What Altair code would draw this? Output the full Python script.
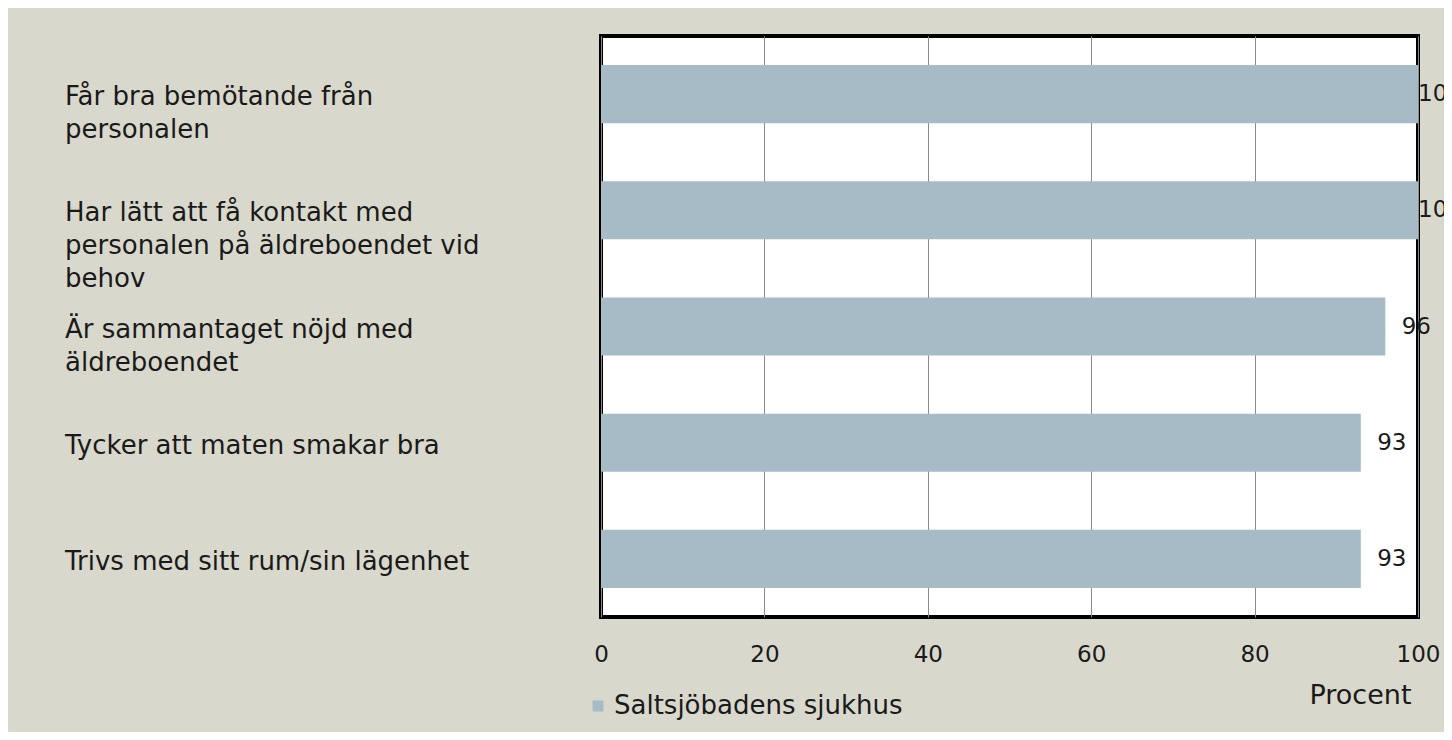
import altair as alt
import pandas as pd

categories = [
    "Får bra bemötande från|personalen",
    "Har lätt att få kontakt med|personalen på äldreboendet vid|behov",
    "Är sammantaget nöjd med|äldreboendet",
    "Tycker att maten smakar bra",
    "Trivs med sitt rum/sin lägenhet",
]
values = [100, 100, 96, 93, 93]
series_name = "Saltsjöbadens sjukhus"
x_ticks = [0, 20, 40, 60, 80, 100]

df = pd.DataFrame({
    "cat": categories,
    "value": values,
    "series": [series_name] * len(values),
})

FONT = "DejaVu Sans"
BAR = "#A7BBC6"
BG = "#D9D8CC"
TXT = "#1a1a1a"

y_enc = alt.Y("cat:N", sort=categories, axis=None,
              scale=alt.Scale(paddingInner=0.5, paddingOuter=0.25))

bars = alt.Chart(df).mark_bar().encode(
    y=y_enc,
    x=alt.X("value:Q",
            scale=alt.Scale(domain=[0, 100], nice=False, zero=True),
            axis=alt.Axis(values=x_ticks, grid=True, gridColor="#8a8a8a", gridWidth=1,
                          domain=False, ticks=False, tickSize=0,
                          labelFont=FONT, labelFontSize=23, labelColor=TXT,
                          labelPadding=37, labelBaseline="middle",
                          labelFlush=False,
                          title="Procent", titleFont=FONT, titleFontSize=27,
                          titleFontWeight="normal", titleColor=TXT,
                          titleX=759, titleY=78, titleAlign="center",
                          titleBaseline="middle")),
    color=alt.Color("series:N",
                    scale=alt.Scale(range=[BAR]),
                    legend=alt.Legend(title=None, orient="none", legendX=-16, legendY=657,
                                      symbolType="square", symbolSize=120,
                                      symbolStrokeWidth=0, labelLimit=0,
                                      labelFont=FONT, labelFontSize=26,
                                      labelColor=TXT, labelOffset=3)),
)

value_labels = alt.Chart(df).transform_calculate(
    pos="min(datum.value + 2, 100)"
).mark_text(align="left", baseline="middle", font=FONT, fontSize=23,
            color=TXT).encode(
    y=y_enc,
    x=alt.X("pos:Q"),
    text=alt.Text("value:Q"),
)

cat_labels = alt.Chart(df).mark_text(
    align="left", baseline="top", font=FONT, fontSize=26, color=TXT,
    lineBreak="|", lineHeight=33, dy=-10,
).encode(
    y=y_enc,
    x=alt.value(-536),
    text="cat:N",
)

chart = alt.layer(bars, value_labels, cat_labels).properties(
    width=817,
    height=581,
    autosize=alt.AutoSizeParams(type="none"),
    padding={"left": 593, "top": 28, "right": 26, "bottom": 115},
    background=BG,
).configure_view(
    stroke="black", strokeWidth=4, fill="white",
)

chart.save("out.html", embed_options={"renderer": "svg", "actions": False})
